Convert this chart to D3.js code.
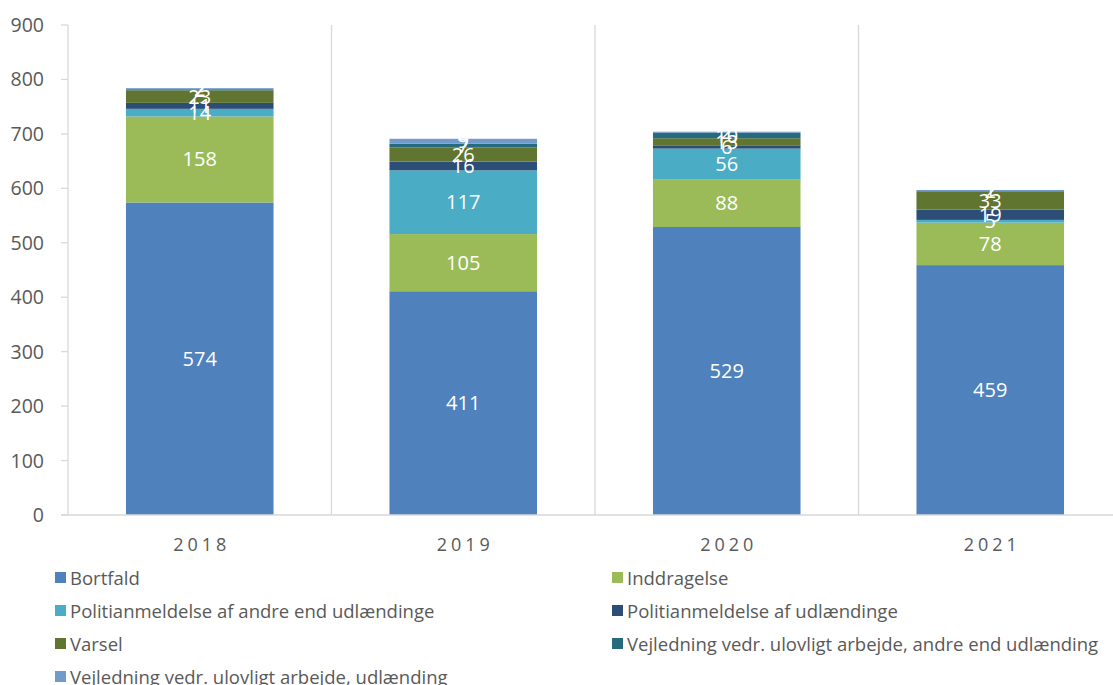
<!DOCTYPE html>
<html>
<head>
<meta charset="utf-8">
<script src="https://cdn.jsdelivr.net/npm/d3@7"></script>
<style>
  body { margin: 0; background: #fff; }
  svg { display: block; font-family: "Open Sans", sans-serif; }
</style>
</head>
<body>
<svg id="chart" width="1113" height="685"></svg>
<script>
// =========================
// DATA
// =========================
const years = ["2018", "2019", "2020", "2021"];

const seriesNames = [
  "Bortfald",
  "Inddragelse",
  "Politianmeldelse af andre end udlændinge",
  "Politianmeldelse af udlændinge",
  "Varsel",
  "Vejledning vedr. ulovligt arbejde, andre end udlænding",
  "Vejledning vedr. ulovligt arbejde, udlænding"
];

const bortfald      = [574, 411, 529, 459];
const inddragelse   = [158, 105, 88, 78];
const politiAndre   = [14, 117, 56, 5];
const politiUdl     = [11, 16, 6, 19];
const varsel        = [23, 26, 13, 33];
const vejlAndre     = [2, 7, 10, 1];
const vejlUdl       = [2, 9, 2, 2];

const yTicks = [0, 100, 200, 300, 400, 500, 600, 700, 800, 900];

const colors = ["#4f81bd", "#9bbb59", "#4bacc6", "#2c4d75", "#5f7530", "#276a7c", "#729aca"];

// =========================
// LAYOUT
// =========================
const svg = d3.select("#chart");
const plotLeft = 68, plotRight = 1122, plotTop = 25, plotBottom = 515;

const rows = years.map((yr, i) => ({
  year: yr,
  [seriesNames[0]]: bortfald[i],
  [seriesNames[1]]: inddragelse[i],
  [seriesNames[2]]: politiAndre[i],
  [seriesNames[3]]: politiUdl[i],
  [seriesNames[4]]: varsel[i],
  [seriesNames[5]]: vejlAndre[i],
  [seriesNames[6]]: vejlUdl[i]
}));

const stacked = d3.stack().keys(seriesNames)(rows);

const x = d3.scaleBand().domain(years).range([plotLeft, plotRight]).paddingInner(0).paddingOuter(0);
const barPad = 0.22;
const y = d3.scaleLinear().domain([0, 900]).range([plotBottom, plotTop]);
const color = d3.scaleOrdinal().domain(seriesNames).range(colors);

// vertical gridlines between categories
const bounds = years.map(d => x(d)).concat([plotRight]);
svg.append("g")
  .selectAll("line")
  .data(bounds)
  .join("line")
  .attr("x1", d => d).attr("x2", d => d)
  .attr("y1", y(900)).attr("y2", plotBottom)
  .attr("stroke", "#d9d9d9")
  .attr("stroke-width", 1.3);

// y tick marks
svg.append("g")
  .selectAll("line")
  .data(yTicks)
  .join("line")
  .attr("x1", plotLeft - 7).attr("x2", plotLeft)
  .attr("y1", d => y(d)).attr("y2", d => y(d))
  .attr("stroke", "#d9d9d9")
  .attr("stroke-width", 1.3);

// y tick labels
svg.append("g")
  .selectAll("text")
  .data(yTicks)
  .join("text")
  .attr("x", 44)
  .attr("y", d => y(d) + 7)
  .attr("text-anchor", "end")
  .text(d => d)
  .style("font-size", "19.5px")
  .style("fill", "#595959");

// bars
const bw = x.bandwidth() * (1 - 2 * barPad);
const layers = svg.append("g")
  .selectAll("g")
  .data(stacked)
  .join("g")
  .attr("fill", d => color(d.key));

layers.selectAll("rect")
  .data(d => d)
  .join("rect")
  .attr("x", d => x(d.data.year) + x.bandwidth() * barPad)
  .attr("width", bw)
  .attr("y", d => y(d[1]))
  .attr("height", d => y(d[0]) - y(d[1]));

// labels
const labelLayers = svg.append("g")
  .selectAll("g")
  .data(stacked)
  .join("g");

labelLayers.selectAll("text")
  .data(d => d)
  .join("text")
  .attr("x", d => x(d.data.year) + x.bandwidth() / 2)
  .attr("y", d => (y(d[0]) + y(d[1])) / 2 + 7)
  .attr("text-anchor", "middle")
  .text(d => d[1] - d[0])
  .style("font-size", "20px")
  .style("fill", "#fff");

// x axis line
svg.append("line")
  .attr("x1", plotLeft - 7).attr("x2", plotRight)
  .attr("y1", plotBottom).attr("y2", plotBottom)
  .attr("stroke", "#d9d9d9")
  .attr("stroke-width", 1.3);

// x labels
svg.append("g")
  .selectAll("text")
  .data(years)
  .join("text")
  .attr("x", d => x(d) + x.bandwidth() / 2 + 2)
  .attr("y", 551)
  .attr("text-anchor", "middle")
  .text(d => d)
  .style("font-size", "18px")
  .style("letter-spacing", "4px")
  .style("fill", "#595959");

// legend
const legend = svg.append("g")
  .selectAll("g")
  .data(seriesNames)
  .join("g")
  .attr("transform", (d, i) => `translate(${i % 2 === 0 ? 55 : 612}, ${578 + Math.floor(i / 2) * 33})`);

legend.append("rect")
  .attr("x", 0).attr("y", -6)
  .attr("width", 11).attr("height", 11)
  .attr("fill", d => color(d));

legend.append("text")
  .attr("x", 15)
  .attr("y", 6.5)
  .text(d => d)
  .style("font-size", "18.5px")
  .style("fill", "#595959");
</script>
</body>
</html>
